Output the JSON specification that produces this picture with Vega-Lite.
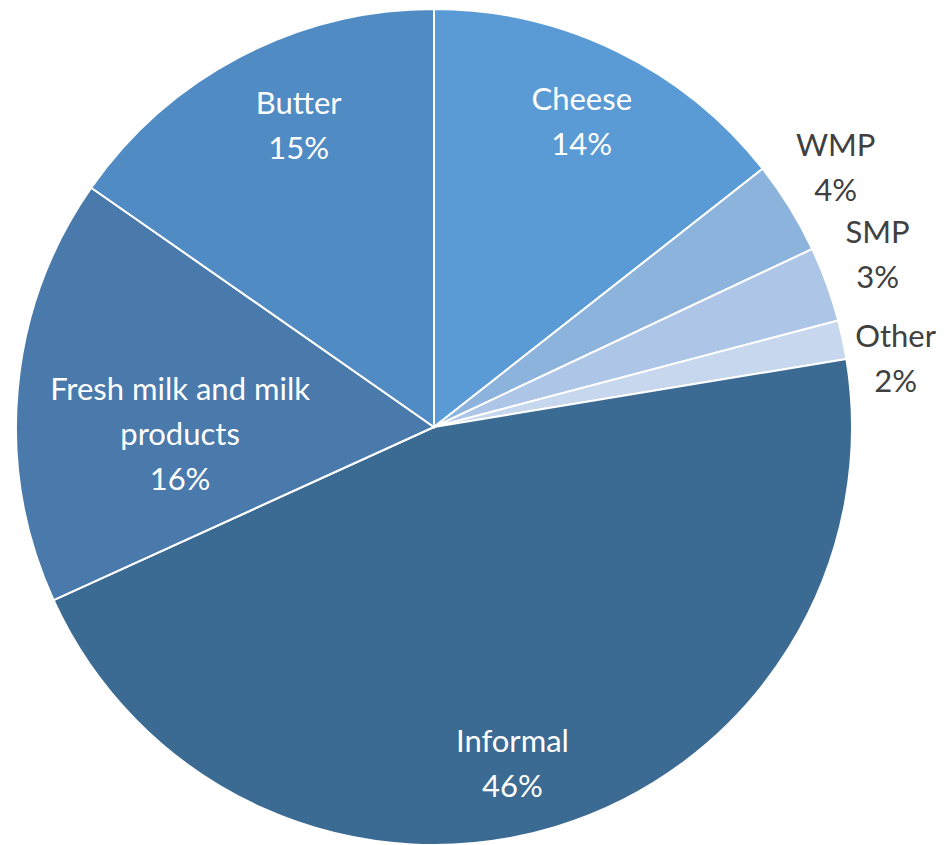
{
  "$schema": "https://vega.github.io/schema/vega-lite/v6.json",
  "width": 868,
  "height": 854,
  "autosize": "none",
  "padding": {"left": 0, "top": 0, "right": 79, "bottom": 0},
  "background": "white",
  "config": {"view": {"stroke": null}},
  "data": {
    "values": [
      {"category": "Cheese", "share": 14.4, "order": 1, "label": "Cheese\n14%"},
      {"category": "WMP", "share": 3.6, "order": 2, "label": "WMP\n4%"},
      {"category": "SMP", "share": 2.9, "order": 3, "label": "SMP\n3%"},
      {"category": "Other", "share": 1.5, "order": 4, "label": "Other\n2%"},
      {"category": "Informal", "share": 45.8, "order": 5, "label": "Informal\n46%"},
      {"category": "Fresh milk and milk products", "share": 16.5, "order": 6, "label": "Fresh milk and milk\nproducts\n16%"},
      {"category": "Butter", "share": 15.3, "order": 7, "label": "Butter\n15%"}
    ]
  },
  "encoding": {
    "theta": {"field": "share", "type": "quantitative", "stack": true},
    "order": {"field": "order", "type": "quantitative"}
  },
  "layer": [
    {
      "mark": {"type": "arc", "outerRadius": 418, "stroke": "white", "strokeWidth": 2},
      "encoding": {
        "color": {
          "field": "category",
          "type": "nominal",
          "scale": {
            "domain": ["Cheese", "WMP", "SMP", "Other", "Informal", "Fresh milk and milk products", "Butter"],
            "range": ["#5b9bd5", "#8cb3dc", "#adc5e7", "#c7d7ee", "#3b6a93", "#4a7aab", "#508bc4"]
          },
          "legend": null
        }
      }
    },
    {
      "mark": {"type": "text", "radius": 338, "dy": -22, "font": "Lato", "fontSize": 31, "color": "white", "lineBreak": "\n", "lineHeight": 45},
      "encoding": {
        "text": {
          "condition": {"test": "datum.category === 'Cheese'", "field": "label"},
          "value": ""
        }
      }
    },
    {
      "mark": {"type": "text", "radius": 338, "dx": 21, "dy": -22, "font": "Lato", "fontSize": 31, "color": "white", "lineBreak": "\n", "lineHeight": 45},
      "encoding": {
        "text": {
          "condition": {"test": "datum.category === 'Butter'", "field": "label"},
          "value": ""
        }
      }
    },
    {
      "mark": {"type": "text", "radius": 345, "dx": -22, "dy": -14, "font": "Lato", "fontSize": 31, "color": "white", "lineBreak": "\n", "lineHeight": 45},
      "encoding": {
        "text": {
          "condition": {"test": "datum.category === 'Informal'", "field": "label"},
          "value": ""
        }
      }
    },
    {
      "mark": {"type": "text", "radius": 255, "dy": -13, "font": "Lato", "fontSize": 31, "color": "white", "lineBreak": "\n", "lineHeight": 45},
      "encoding": {
        "text": {
          "condition": {"test": "datum.category === 'Fresh milk and milk products'", "field": "label"},
          "value": ""
        }
      }
    },
    {
      "mark": {"type": "text", "radius": 472, "dy": -32, "font": "Lato", "fontSize": 31, "color": "#404040", "lineBreak": "\n", "lineHeight": 45},
      "encoding": {
        "text": {
          "condition": {"test": "datum.category === 'WMP' || datum.category === 'SMP'", "field": "label"},
          "value": ""
        }
      }
    },
    {
      "mark": {"type": "text", "radius": 472, "dy": 10, "font": "Lato", "fontSize": 31, "color": "#404040", "lineBreak": "\n", "lineHeight": 45},
      "encoding": {
        "text": {
          "condition": {"test": "datum.category === 'Other'", "field": "label"},
          "value": ""
        }
      }
    }
  ]
}
